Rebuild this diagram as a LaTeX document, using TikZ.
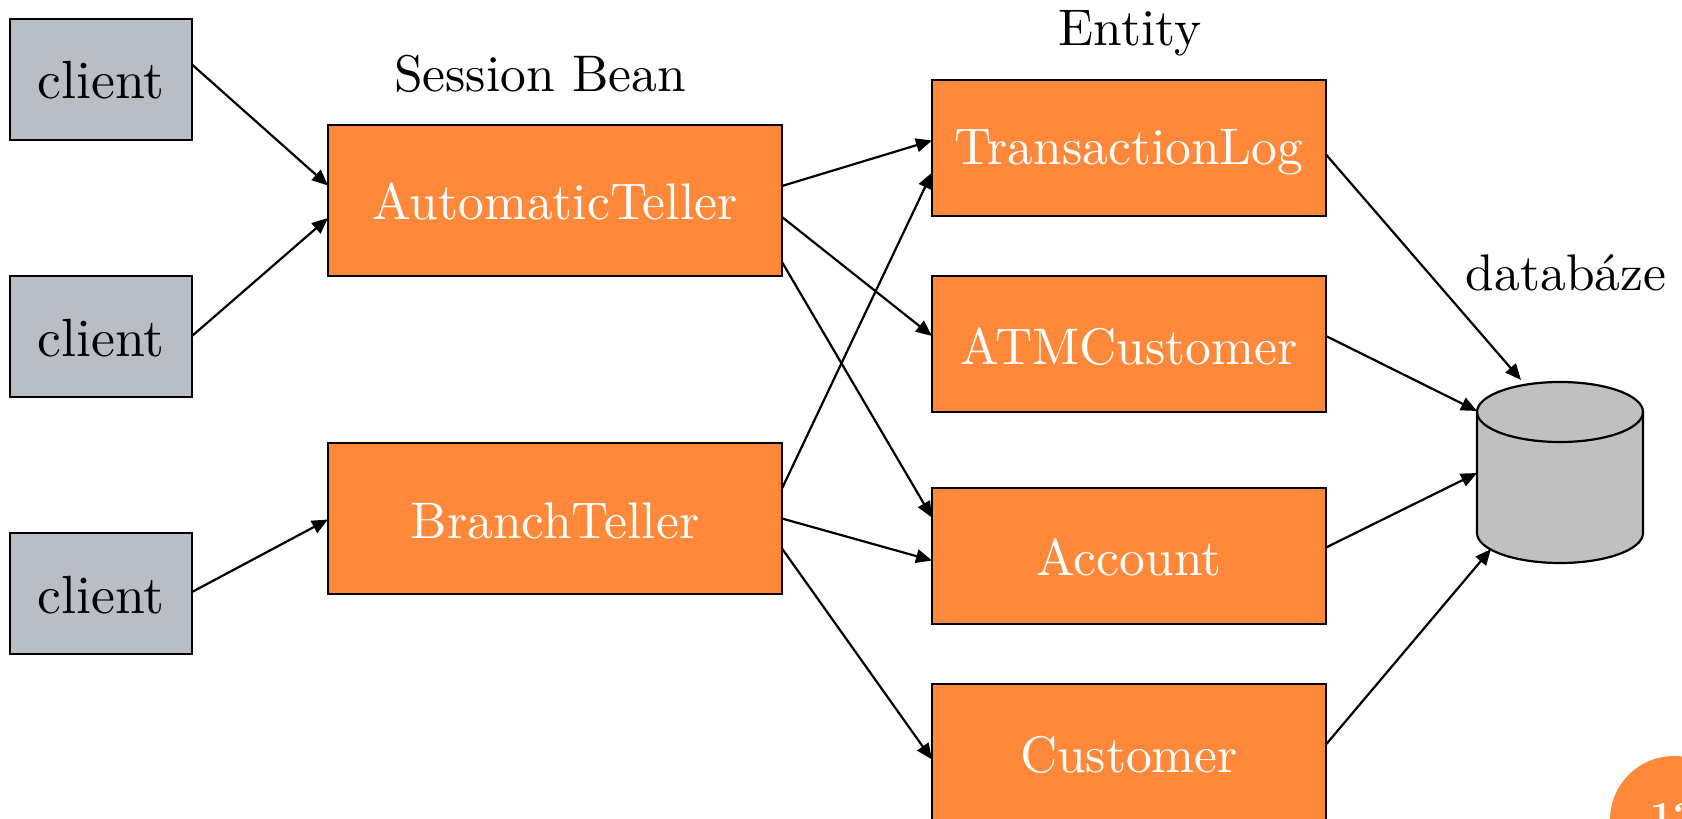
\documentclass[tikz,border=0pt]{standalone}
\usepackage{fontspec}
\setmainfont{lmroman10-regular.otf}[BoldFont=lmroman10-bold.otf]
\usetikzlibrary{arrows.meta,calc}
\definecolor{boxorange}{HTML}{FF883A}
\definecolor{clientgray}{HTML}{B9BDC6}
\definecolor{dbgray}{HTML}{C0C0C0}
\newcommand{\onE}[2]{($(#1.north east)+(0,#2)$)}
\newcommand{\onW}[2]{($(#1.north west)+(0,#2)$)}
\tikzset{
  every node/.style={inner sep=0pt,outer sep=0pt},
  base/.style={text height=20pt+#1,text depth=20pt-#1},
  clientbox/.style={draw=black,line width=1pt,fill=clientgray,text=black,minimum width=91pt,minimum height=60.5pt,font=\fontsize{26.9}{30}\selectfont,base=#1},
  sessionbox/.style={draw=black,line width=1pt,fill=boxorange,text=white,minimum width=227pt,minimum height=75.5pt,font=\fontsize{25.75}{30}\selectfont,base=#1},
  entitybox/.style={draw=black,line width=1pt,fill=boxorange,text=white,minimum width=197pt,minimum height=68pt,font=\fontsize{25.75}{30}\selectfont,base=#1},
  titletext/.style={text=black,font=\fontsize{25.75}{30}\selectfont},
  arr/.style={draw=black,line width=1.1pt,-{Triangle[length=8pt,width=6.8pt]}},
}
\begin{document}
\begin{tikzpicture}[x=.5pt,y=-.5pt]
\useasboundingbox (0,0) rectangle (1682,819);
\clip (0,0) rectangle (1682,819);
\fill[white] (0,0) rectangle (1682,819);
\node[circle,fill=boxorange,minimum size=128pt*.5] (pagebadge) at (1674,820) {};
\node[text=white,font=\fontsize{20}{22}\selectfont\bfseries,anchor=base] (pagenum) at (1673,829) {12};
\node[clientbox=9.9pt] (c1) at (101,79) {client};
\node[clientbox=9.9pt] (c2) at (101,336.5) {client};
\node[clientbox=9.9pt] (c3) at (101,593.5) {client};
\node[sessionbox=9.4pt] (at) at (555,200.5) {AutomaticTeller};
\node[sessionbox=10.4pt] (bt) at (555,518) {BranchTeller};
\node[entitybox=8.4pt] (tl) at (1129,147.5) {TransactionLog};
\node[entitybox=10.4pt] (atm) at (1129,344) {ATMCustomer};
\node[entitybox=9.9pt] (acc) at (1129,555.5) {Account};
\node[entitybox=10.4pt] (cust) at (1129,751.5) {Customer};
\node[titletext] (tsession) at (540,74) {Session Bean};
\node[titletext] (tentity) at (1130,33) {Entity};
\node[titletext] (tdb) at (1566,273) {databáze};
\node[minimum width=83pt,minimum height=90.5pt] (db) at (1560,472.5) {};
\draw[line width=1.1pt,fill=dbgray] (db.north west) ++(0,30) -- ++(0,121)
  arc[start angle=180,end angle=360,x radius=83,y radius=-30] -- ++(0,-121)
  arc[start angle=0,end angle=180,x radius=83,y radius=-30] -- cycle;
\draw[line width=1.1pt] (db.north west) ++(0,30) arc[start angle=180,end angle=360,x radius=83,y radius=-30];
\draw[arr] \onE{c1}{46} -- \onW{at}{60.5};
\draw[arr] \onE{c2}{60} -- \onW{at}{93};
\draw[arr] \onE{c3}{59} -- \onW{bt}{77};
\draw[arr] \onE{at}{61} -- \onW{tl}{61};
\draw[arr] \onE{at}{92} -- \onW{atm}{60};
\draw[arr] \onE{at}{137} -- \onW{acc}{30};
\draw[arr] \onE{bt}{46} -- \onW{tl}{93};
\draw[arr] \onE{bt}{76} -- \onW{acc}{73};
\draw[arr] \onE{bt}{106} -- \onW{cust}{76};
\draw[arr] \onE{tl}{75} -- ($(db.north west)+(44,-2)$);
\draw[arr] \onE{atm}{60} -- ($(db.north west)+(0,29)$);
\draw[arr] \onE{acc}{60} -- ($(db.north west)+(0,91)$);
\draw[arr] \onE{cust}{61} -- ($(db.north west)+(14,167)$);
\end{tikzpicture}
\end{document}
